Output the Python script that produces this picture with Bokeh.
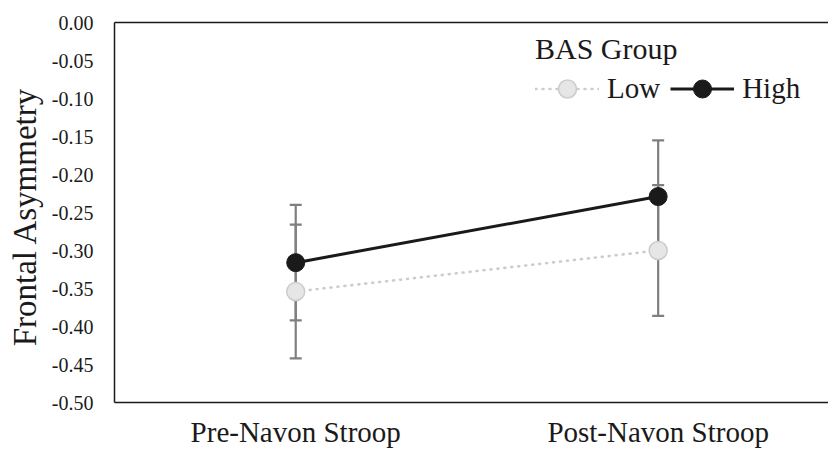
from bokeh.plotting import figure
from bokeh.models import (Range1d, FixedTicker, LinearAxis, ColumnDataSource, Whisker,
                          TeeHead, Legend, LegendItem, NumeralTickFormatter)
from bokeh.embed import file_html
from bokeh.resources import INLINE

# ---- data ----
categories = ["Pre-Navon Stroop", "Post-Navon Stroop"]
cat_pos = [1, 2]
low_mean = [-0.354, -0.300]
low_err = [0.088, 0.086]
high_mean = [-0.316, -0.229]
high_err = [0.076, 0.074]
y_ticks = [-0.50, -0.45, -0.40, -0.35, -0.30, -0.25, -0.20, -0.15, -0.10, -0.05, 0.00]

FONT = "Liberation Serif"
DARK = "#1a1a1a"

p = figure(width=828, height=450, output_backend="svg", toolbar_location=None,
           x_range=Range1d(0.5, 2.47), y_range=Range1d(-0.5, 0.0),
           min_border_left=114, min_border_top=22, min_border_bottom=48, min_border_right=0)
p.xgrid.visible = False
p.ygrid.visible = False
p.outline_line_color = None
p.background_fill_color = "white"
p.border_fill_color = "white"

# axes
xa = p.xaxis[0]
xa.ticker = FixedTicker(ticks=cat_pos)
xa.major_label_overrides = {c: lab for c, lab in zip(cat_pos, categories)}
xa.major_tick_out = 0
xa.major_tick_in = 0
xa.minor_tick_out = 0
xa.minor_tick_in = 0
xa.axis_line_color = DARK
xa.axis_line_width = 1.5
xa.major_label_text_font = FONT
xa.major_label_text_font_size = "29px"
xa.major_label_text_color = DARK
xa.major_label_standoff = 13

ya = p.yaxis[0]
ya.ticker = FixedTicker(ticks=y_ticks)
ya.formatter = NumeralTickFormatter(format="0.00")
ya.major_tick_out = 0
ya.major_tick_in = 0
ya.minor_tick_out = 0
ya.minor_tick_in = 0
ya.axis_line_color = DARK
ya.axis_line_width = 1.5
ya.major_label_text_font = FONT
ya.major_label_text_font_size = "20px"
ya.major_label_text_color = DARK
ya.major_label_standoff = 21
ya.axis_label = "Frontal  Asymmetry"
ya.axis_label_text_font = FONT
ya.axis_label_text_font_size = "33px"
ya.axis_label_text_font_style = "normal"
ya.axis_label_text_color = DARK
ya.axis_label_standoff = 6

top_axis = LinearAxis(ticker=FixedTicker(ticks=[]), major_label_text_font_size="0px",
                      major_tick_out=0, major_tick_in=0, minor_tick_out=0, minor_tick_in=0,
                      axis_line_color=DARK, axis_line_width=1.5)
p.add_layout(top_axis, "above")

# error bars
src = ColumnDataSource(data=dict(
    x=cat_pos + cat_pos,
    upper=[m + e for m, e in zip(low_mean, low_err)] + [m + e for m, e in zip(high_mean, high_err)],
    lower=[m - e for m, e in zip(low_mean, low_err)] + [m - e for m, e in zip(high_mean, high_err)],
))
wk = Whisker(source=src, base="x", upper="upper", lower="lower", dimension="height",
             line_color="#7f7f7f", line_width=2.2,
             upper_head=TeeHead(size=12, line_color="#7f7f7f", line_width=2.2),
             lower_head=TeeHead(size=12, line_color="#7f7f7f", line_width=2.2))
p.add_layout(wk)

# series
l_line = p.line(cat_pos, low_mean, line_color="#cccccc", line_width=2.6, line_dash="1 6",
                line_cap="round")
l_pts = p.scatter(cat_pos, low_mean, size=18, fill_color="#e6e6e6", line_color="#cccccc",
                  line_width=1.5)
h_line = p.line(cat_pos, high_mean, line_color=DARK, line_width=3)
h_pts = p.scatter(cat_pos, high_mean, size=18, fill_color=DARK, line_color=DARK, line_width=1)

legend = Legend(items=[LegendItem(label="Low", renderers=[l_line, l_pts]),
                       LegendItem(label="High", renderers=[h_line, h_pts])],
                orientation="horizontal", location=(421, 291),
                title="BAS Group", title_standoff=0,
                glyph_width=64, glyph_height=45, label_standoff=8, spacing=10,
                padding=10, margin=0, border_line_color=None, background_fill_alpha=0)
legend.title_text_font = FONT
legend.title_text_font_size = "30px"
legend.title_text_font_style = "normal"
legend.title_text_color = DARK
legend.label_text_font = FONT
legend.label_text_font_size = "29px"
legend.label_text_font_style = "normal"
legend.label_text_color = DARK
p.add_layout(legend, "center")

open("out.html", "w").write(file_html(p, INLINE))
